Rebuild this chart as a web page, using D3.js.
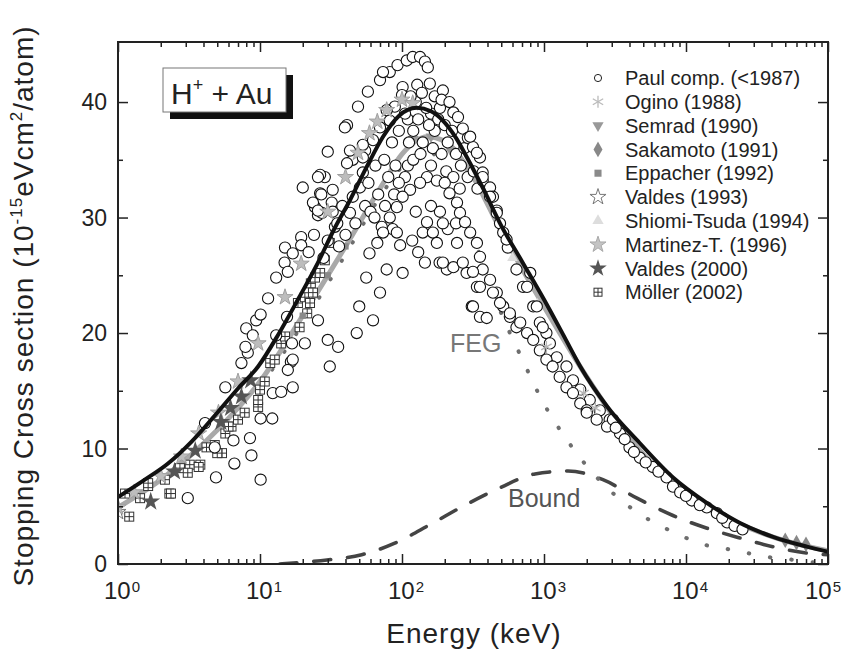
<!DOCTYPE html>
<html><head><meta charset="utf-8">
<script src="https://cdn.jsdelivr.net/npm/d3@7"></script>
<style>
html,body{margin:0;padding:0;background:#fff;}
svg text{font-family:"Liberation Sans",Arial,Helvetica,sans-serif;}
</style></head>
<body><svg id="chart" width="845" height="652"></svg>
<script>
// ---------------- DATA ----------------
const xMajorTicks = [1, 10, 100, 1000, 10000, 100000];
const xTickExponents = ["0", "1", "2", "3", "4", "5"];
const yMajorTicks = [0, 10, 20, 30, 40];
const yMinorTicks = [5, 15, 25, 35];

// total theory (black solid)
const totalCurve = [[1,5.8],[1.5,7.2],[2.25,8.7],[3.3,10.6],[5,13.1],[7,15.2],[9.7,17.1],[13.5,19.9],[18.5,22.9],[25.6,26.1],[33,28.9],[43,31.5],[57,34.5],[73.5,37.0],[95,38.8],[127,39.5],[160,39.2],[194,38.4],[240,36.9],[287,35.2],[380,32.3],[490,29.5],[700,26.2],[1000,22.9],[1400,19.6],[1800,17.1],[2800,13.6],[4700,10.5],[8100,7.5],[14000,5.3],[24000,3.55],[41000,2.35],[71000,1.5],[100000,1.05]];
// second theory (thick grey)
const greyCurve = [[1,4.9],[2,7.3],[5,11.6],[10,15.8],[20,21.5],[40,27.5],[70,32.5],[100,35.5],[150,37.0],[200,36.6],[300,34.0],[500,28.8],[1000,22.3],[2000,16.2],[4000,10.9],[10000,6.0],[20000,3.9],[50000,2.0],[100000,1.15]];
// FEG contribution (dotted)
const fegCurve = [[10,15.3],[20,20.8],[40,26.8],[70,31.8],[100,34.4],[157,35.8],[194,33.9],[230,32.1],[268,30.4],[311,28.7],[354,26.7],[405,24.8],[453,23.1],[516,21.3],[596,19.6],[699,17.8],[825,15.9],[965,14.2],[1150,12.6],[1420,10.9],[1850,9.0],[2440,7.3],[3430,5.6],[4900,4.2],[6890,3.2],[9840,2.3],[13200,1.7],[19500,1.3],[27000,0.95],[37800,0.6],[51400,0.43],[71100,0.2],[88000,0.1]];
// Bound contribution (dashed)
const boundCurve = [[13.8,0],[20,0.15],[29.6,0.35],[52,0.8],[89,1.8],[157,3.4],[278,5.1],[490,6.6],[864,7.8],[1476,8.05],[2600,7.3],[4520,5.7],[8090,4.2],[14060,3.1],[24000,2.25],[40800,1.5],[70800,0.95],[100000,0.8]];

// experimental series  [energy keV, value]
const paulComp = [
[3.1,5.7],[4.9,7.5],[6.6,8.7],[8.7,9.4],[10.1,7.3],[6.5,10.7],[8.5,10.9],[4.1,12.2],[4.8,10.1],[10.1,12.6],[12.2,12.6],[12.3,14.8],[14.1,14.9],[17,15.3],[5.7,15.3],[7.4,17.4],[8.2,18.3],[7.9,18.8],[8.0,20.4],[8.9,19.8],[9.4,21.1],[10.1,21.6],[11.4,23.0],[13,24.8],[14.9,26.1],[15.7,25.3],[15,27.4],[17,26.9],[19.5,28.3],[19.5,27.6],[16.5,17.5],[15.7,16.8],[20.7,19.1],[24.4,30.9],[25.6,30.2],[25.6,21.1],[13,19.8],[15.5,21.4],[17,17.7],[30,19.4],[35.5,18.8],[31,17.1],[16.8,19.1],
[20,32.6],[28.6,33.5],[30,35.7],[41,38],[49,39.6],[57.5,40.9],[70,41.9],[82,42.6],[93,43.2],[108,43.6],[119,43.9],[134,43.9],[145,43.5],[152,43.0],[39.6,37.8],[73.5,42.6],
[26.5,33.7],[26.5,32.1],[23.6,31.3],[27.3,30.4],[32,31.3],[33.7,29.2],[43,30.4],[45,31.8],[50.5,32.6],[53,33.9],[45,35],[43,35.8],[55,35.8],[62.5,36.7],[70,37.8],[82,38.4],[89,39.6],[78,39.3],[101,41.3],[100,40.6],[25.6,33.5],[27,32],[32.5,32.4],[25.6,30.6],[32.5,30.5],[41,34.7],[53,36.3],[53,35.2],
[30,28.0],[35,29.5],[36,27.5],[38,31],[40,28.5],[47,29.5],[55,31],[58,33],[60,30.5],[65,34.5],[68,32],[75,35],[80,33.5],[85,36.5],[90,34.5],[95,37.5],[110,38.5],[112,36.5],[120,37.5],[125,40.0],[130,38.5],[140,36.5],[160,39.0],[170,37.5],[180,38.5],[165,36.0],[22,27.0],[24,28.5],[28,26.5],
[105,39.0],[115,40.5],[128,41.5],[138,40.8],[148,39.5],[155,38.0],[170,40.5],[185,39.5],[200,38.0],[210,36.5],[225,37.5],[240,35.5],[260,34.5],[275,36.0],[290,33.5],[320,34.0],[340,32.5],[110,34.5],[120,35.0],[135,35.5],[105,33.5],[95,33.0],[88,32.0],[125,30.5],[160,31.0],[185,30.5],[210,29.0],[240,29.5],[118,28.0],[130,27.0],[160,34.5],[190,35.5],[205,34.0],[230,33.5],[255,32.5],[64,30.0],[76,31.0],[86,29.0],
[157,41.6],[194,41],[190,40.2],[216,40],[230,39.1],[248,38.7],[268,37.7],[291,36.9],[316,36.1],[354,35.2],[370,33.9],[370,33.2],[417,32.6],[437,31.8],[465,30.6],[490,29.5],[516,28.7],[556,27.4],[640,25.5],[712,24],[840,22.3],[935,20.9],[1040,20.0],[302,37],[337,35.6],[370,33.5],[417,31.8],[465,30.4],[545,28.1],[760,24],[800,25.2],[890,22.3],[980,20.5],[1100,19.1],[1230,17.9],[1440,17.1],[1600,15.9],[1800,15.1],[2100,14.2],[2470,13.3],[2900,12.5],
[150,33.5],[134,33.0],[114,32.4],[101,31.8],[92,30.9],[82,30.0],[72,29.2],[176,33.2],[200,33],[216,32.1],[244,31.3],[256,30.4],[278,29.6],[302,28.7],[337,27.8],[354,26.6],[370,25.5],[417,24.6],[465,23.5],[516,22.3],[575,21.4],[640,20.5],
[67,27.8],[78,25.5],[101,25.2],[140,28.7],[150,29.6],[165,28.7],[176,27.8],[145,26.1],[184,26.1],[207,25.5],[244,27.8],[285,25.2],[337,24],[310,22.3],[354,21.4],[97,27.6],[92,28.7],[73.5,28.7],[59,26.9],[56,24.8],[70,23.5],[50,22.3],[62.5,21.1],[48,20.0],
[194,29.5],[194,26.1],[230,25.7],[268,26.1],[316,25.3],[354,24],[437,23.5],[316,22.3],[395,21.3],[490,22.6],[575,21.7],[680,20.9],[760,20],[840,19.4],[935,18.5],[1040,17.7],[1150,17.1],[1290,16.2],[1440,15.3],[1600,14.8],[1800,13.9],[2000,13.3],[2350,12.5],[2780,11.9],
[2000,13.1],[3060,12.5],[3430,11.3],[4000,10.1],[4740,9.2],[5830,8.4],[7300,7.5],[8100,6.7],[9100,6.2],[11000,5.5],[14000,4.9],[16500,4.4],[19500,3.6],[3200,11.8],[3700,10.8],[4300,9.7],[5200,8.8],[6400,8.0],[10000,5.9],[12500,5.1],[22000,3.3],[25000,3.0],[18000,4.0]
];
const ogino = [[1040,18.8],[1900,14.8],[2300,13.5]];
const semrad = [[120,36.8],[160,37.0],[220,35.8],[300,33.8]];
const sakamoto = [[50000,2.05],[60000,1.85],[70000,1.7]];
const eppacher = [[20,21.5],[30,25.0],[40,27.5],[60,31.0],[80,33.5]];
const valdes1993 = [[1.0,4.5]];
const shiomiTsuda = [[600,26.5],[900,22.5]];
const martinez = [[1.0,4.9],[1.3,6.2],[2.0,7.6],[2.8,9.3],[3.7,11.3],[5.1,13.1],[7,15.8],[9.7,19.1],[15,23.1],[19.5,26],[30,30.5],[40,33.5],[49,35.6],[59,37.3],[67,38.3],[78,39.3],[100,40.2],[119,39.9]];
const valdes2000 = [[1.7,5.4],[2.5,8.0],[3.5,9.8],[5.3,12.3],[6.2,13.5],[7.4,14.5],[8.6,15.9]];
const moller = [[1.2,4.1],[1.12,6.1],[1.43,5.7],[1.63,6.75],[2.14,7.3],[2.3,6.1],[2.73,8.3],[3.2,8.6],[3.8,8.6],[4.2,10.1],[4.8,10.3],[5.4,9.6],[5.7,11.3],[6.3,11.9],[7,12.5],[7.8,13.1],[9.7,13.6],[9.7,14.2],[10,15.1],[10.8,15.8],[11.8,17.4],[12.7,17.7],[14.1,19.1],[15,19.7],[18.5,22.6],[20.7,23.1],[22.8,24.3],[24.4,24.8],[6,11.9],[5,9.6],[3.7,8.4],[3.1,7.9],[2.36,6.1],[1.63,7.0],[19,20.5],[21.5,21.7],[23.6,23.5],[26.5,25.2],[28.6,26.3],[31,27.8],[22.5,22.6]];

const legendLabels = ["Paul comp. (<1987)","Ogino (1988)","Semrad (1990)","Sakamoto (1991)","Eppacher (1992)","Valdes (1993)","Shiomi-Tsuda (1994)","Martinez-T. (1996)","Valdes (2000)","Möller (2002)"];

// ---------------- DRAW ----------------
const svg = d3.select("#chart");
const L = 118, R = 828, T = 42, B = 564;
const x = d3.scaleLog().domain([1, 1e5]).range([L, R]);
const y = d3.scaleLinear().domain([0, 45.2]).range([B, T]);

const xMinor = [];
for (let d = 1; d < 1e5; d *= 10) for (let k = 2; k <= 9; k++) xMinor.push(d * k);

const line = d3.line().x(d => x(d[0])).y(d => y(d[1])).curve(d3.curveMonotoneX);

const plot = svg.append("g");
svg.append("clipPath").attr("id", "clipP").append("rect").attr("x", L).attr("y", T).attr("width", R - L).attr("height", B - T);
plot.attr("clip-path", "url(#clipP)");

plot.append("path").attr("d", line(boundCurve)).attr("fill", "none")
  .attr("stroke", "#444").attr("stroke-width", 3.6).attr("stroke-dasharray", "17,17").attr("stroke-linecap", "round");
plot.append("path").attr("d", line(fegCurve)).attr("fill", "none")
  .attr("stroke", "#6e6e6e").attr("stroke-width", 4).attr("stroke-dasharray", "0.5,21").attr("stroke-linecap", "round");
plot.append("path").attr("d", line(greyCurve)).attr("fill", "none")
  .attr("stroke", "#a9a9a9").attr("stroke-width", 5);

function sym(type, size) { return d3.symbol().type(type).size(size)(); }
function drawMoller(g, cx, cy, s) {
  const h = s / 2;
  g.append("rect").attr("x", cx - h).attr("y", cy - h).attr("width", s).attr("height", s)
    .attr("fill", "#fff").attr("stroke", "#333").attr("stroke-width", 1);
  g.append("line").attr("x1", cx - h).attr("x2", cx + h).attr("y1", cy).attr("y2", cy).attr("stroke", "#333").attr("stroke-width", 1);
  g.append("line").attr("x1", cx).attr("x2", cx).attr("y1", cy - h).attr("y2", cy + h).attr("stroke", "#333").attr("stroke-width", 1);
}
function drawAsterisk(g, cx, cy, r, col) {
  for (let a = 0; a < 3; a++) {
    const ang = Math.PI / 2 + a * Math.PI / 3;
    g.append("line").attr("x1", cx - r * Math.cos(ang)).attr("y1", cy - r * Math.sin(ang))
      .attr("x2", cx + r * Math.cos(ang)).attr("y2", cy + r * Math.sin(ang))
      .attr("stroke", col).attr("stroke-width", 1.3);
  }
}

const gM = plot.append("g");
moller.forEach(d => drawMoller(gM, x(d[0]), y(d[1]), 9));
plot.append("g").selectAll("path").data(eppacher).join("path")
  .attr("d", sym(d3.symbolSquare, 40)).attr("transform", d => `translate(${x(d[0])},${y(d[1])})`).attr("fill", "#8a8a8a");
plot.append("g").selectAll("path").data(semrad).join("path")
  .attr("d", sym(d3.symbolTriangle, 50)).attr("transform", d => `translate(${x(d[0])},${y(d[1])}) rotate(180)`).attr("fill", "#999");
plot.append("g").selectAll("path").data(shiomiTsuda).join("path")
  .attr("d", sym(d3.symbolTriangle, 50)).attr("transform", d => `translate(${x(d[0])},${y(d[1])})`).attr("fill", "#ddd");
plot.append("g").selectAll("circle").data(paulComp).join("circle")
  .attr("cx", d => x(d[0])).attr("cy", d => y(d[1])).attr("r", 5.6)
  .attr("fill", "#fff").attr("stroke", "#111").attr("stroke-width", 1.1);
const gO = plot.append("g");
ogino.forEach(d => drawAsterisk(gO, x(d[0]), y(d[1]), 6, "#b5b5b5"));
plot.append("g").selectAll("path").data(sakamoto).join("path")
  .attr("d", sym(d3.symbolDiamond, 70)).attr("transform", d => `translate(${x(d[0])},${y(d[1])})`).attr("fill", "#888");
plot.append("g").selectAll("path").data(valdes1993).join("path")
  .attr("d", sym(d3.symbolStar, 80)).attr("transform", d => `translate(${x(d[0])},${y(d[1])})`).attr("fill", "#fff").attr("stroke", "#777");
plot.append("g").selectAll("path").data(martinez).join("path")
  .attr("d", sym(d3.symbolStar, 80)).attr("transform", d => `translate(${x(d[0])},${y(d[1])})`)
  .attr("fill", "#bdbdbd").attr("stroke", "#a0a0a0").attr("stroke-width", 1);
plot.append("g").selectAll("path").data(valdes2000).join("path")
  .attr("d", sym(d3.symbolStar, 110)).attr("transform", d => `translate(${x(d[0])},${y(d[1])})`).attr("fill", "#555");

plot.append("path").attr("d", line(totalCurve)).attr("fill", "none")
  .attr("stroke", "#111").attr("stroke-width", 4);

svg.append("text").attr("x", 450).attr("y", 352).attr("font-size", 25).attr("fill", "#777").text("FEG");
svg.append("text").attr("x", 508).attr("y", 507).attr("font-size", 25).attr("fill", "#555").text("Bound");

function styleAxis(g) {
  g.select(".domain").remove();
  g.selectAll("line").attr("stroke", "#222").attr("stroke-width", 1.5);
}
svg.append("g").attr("transform", `translate(0,${B})`).call(d3.axisTop(x).tickValues(xMajorTicks).tickSize(10).tickFormat("")).call(styleAxis);
svg.append("g").attr("transform", `translate(0,${B})`).call(d3.axisTop(x).tickValues(xMinor).tickSize(5).tickFormat("")).call(styleAxis);
svg.append("g").attr("transform", `translate(0,${T})`).call(d3.axisBottom(x).tickValues(xMajorTicks).tickSize(10).tickFormat("")).call(styleAxis);
svg.append("g").attr("transform", `translate(0,${T})`).call(d3.axisBottom(x).tickValues(xMinor).tickSize(5).tickFormat("")).call(styleAxis);
svg.append("g").attr("transform", `translate(${L},0)`).call(d3.axisRight(y).tickValues(yMajorTicks).tickSize(10).tickFormat("")).call(styleAxis);
svg.append("g").attr("transform", `translate(${L},0)`).call(d3.axisRight(y).tickValues(yMinorTicks).tickSize(5).tickFormat("")).call(styleAxis);
svg.append("g").attr("transform", `translate(${R},0)`).call(d3.axisLeft(y).tickValues(yMajorTicks).tickSize(10).tickFormat("")).call(styleAxis);
svg.append("g").attr("transform", `translate(${R},0)`).call(d3.axisLeft(y).tickValues(yMinorTicks).tickSize(5).tickFormat("")).call(styleAxis);

svg.append("rect").attr("x", L).attr("y", T).attr("width", R - L).attr("height", B - T)
  .attr("fill", "none").attr("stroke", "#222").attr("stroke-width", 2);

xMajorTicks.forEach((v, i) => {
  const px = Math.min(x(v) - 14, 805);
  const t = svg.append("text").attr("x", px).attr("y", 599).attr("font-size", 24).attr("fill", "#222");
  t.append("tspan").text("10");
  t.append("tspan").attr("font-size", 15).attr("dy", -7).attr("dx", 1).text(xTickExponents[i]);
});
yMajorTicks.forEach(v => {
  svg.append("text").attr("x", 107).attr("y", y(v)).attr("dy", "0.36em").attr("font-size", 23)
    .attr("text-anchor", "end").attr("fill", "#222").text(v);
});

svg.append("text").attr("x", 474).attr("y", 643).attr("font-size", 28).attr("letter-spacing", 1)
  .attr("text-anchor", "middle").attr("fill", "#222").text("Energy (keV)");
const yt = svg.append("text").attr("transform", `translate(33,${(T + B) / 2 + 3}) rotate(-90)`)
  .attr("font-size", 28).attr("letter-spacing", 1).attr("text-anchor", "middle").attr("fill", "#222");
yt.append("tspan").text("Stopping Cross section (10");
yt.append("tspan").attr("font-size", 17).attr("dy", -11).text("-15");
yt.append("tspan").attr("dy", 11).text("eVcm");
yt.append("tspan").attr("font-size", 17).attr("dy", -11).text("2");
yt.append("tspan").attr("dy", 11).text("/atom)");

svg.append("rect").attr("x", 170).attr("y", 75).attr("width", 123).attr("height", 44).attr("fill", "#111");
svg.append("rect").attr("x", 163).attr("y", 68).attr("width", 123).attr("height", 44).attr("fill", "#fff").attr("stroke", "#777").attr("stroke-width", 1);
const ht = svg.append("text").attr("x", 171).attr("y", 104).attr("font-size", 30).attr("fill", "#222");
ht.append("tspan").text("H");
ht.append("tspan").attr("font-size", 18).attr("dy", -13).text("+");
ht.append("tspan").attr("dy", 13).text(" + Au");

const lg = svg.append("g");
const legX = 598, legT = 625, legY0 = 78, legDY = 23.8;
legendLabels.forEach((lab, i) => {
  const cy = legY0 + i * legDY;
  lg.append("text").attr("x", legT).attr("y", cy).attr("dy", "0.36em").style("font-size", "20px").attr("fill", "#222").text(lab);
  const g = lg.append("g");
  switch (i) {
    case 0: g.append("circle").attr("cx", legX).attr("cy", cy).attr("r", 3.6).attr("fill", "#fff").attr("stroke", "#222").attr("stroke-width", 1); break;
    case 1: drawAsterisk(g, legX, cy, 6, "#bbb"); break;
    case 2: g.append("path").attr("d", sym(d3.symbolTriangle, 55)).attr("transform", `translate(${legX},${cy}) rotate(180)`).attr("fill", "#999"); break;
    case 3: g.append("path").attr("d", sym(d3.symbolDiamond, 70)).attr("transform", `translate(${legX},${cy})`).attr("fill", "#888"); break;
    case 4: g.append("path").attr("d", sym(d3.symbolSquare, 50)).attr("transform", `translate(${legX},${cy})`).attr("fill", "#8a8a8a"); break;
    case 5: g.append("path").attr("d", sym(d3.symbolStar, 80)).attr("transform", `translate(${legX},${cy})`).attr("fill", "#fff").attr("stroke", "#777"); break;
    case 6: g.append("path").attr("d", sym(d3.symbolTriangle, 55)).attr("transform", `translate(${legX},${cy})`).attr("fill", "#ddd"); break;
    case 7: g.append("path").attr("d", sym(d3.symbolStar, 80)).attr("transform", `translate(${legX},${cy})`).attr("fill", "#c4c4c4").attr("stroke", "#a8a8a8"); break;
    case 8: g.append("path").attr("d", sym(d3.symbolStar, 95)).attr("transform", `translate(${legX},${cy})`).attr("fill", "#555"); break;
    case 9: drawMoller(g, legX, cy, 8); break;
  }
});
</script></body></html>
